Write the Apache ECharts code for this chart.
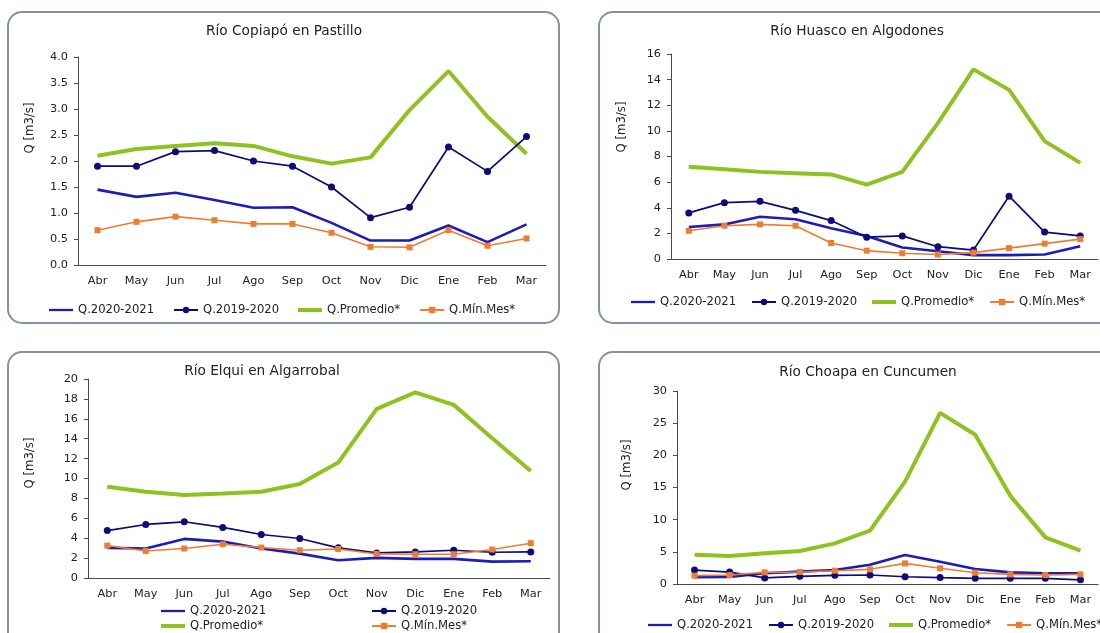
<!DOCTYPE html>
<html>
<head>
<meta charset="utf-8">
<script src="https://cdn.jsdelivr.net/npm/echarts@6/dist/echarts.min.js"></script>
<style>
  html, body { margin: 0; padding: 0; background: #fff; overflow: hidden; }
  #chart { width: 1100px; height: 633px; }
</style>
</head>
<body>
<div id="chart"></div>
<script>
// Months of the hydrological year (April to March)
const months = ['Abr', 'May', 'Jun', 'Jul', 'Ago', 'Sep', 'Oct', 'Nov', 'Dic', 'Ene', 'Feb', 'Mar'];

const seriesNames = ['Q.2020-2021', 'Q.2019-2020', 'Q.Promedio*', 'Q.Mín.Mes*'];

// Río Copiapó en Pastillo [m3/s]
const copiapo2021 = [1.45, 1.31, 1.39, 1.25, 1.10, 1.11, 0.81, 0.47, 0.47, 0.76, 0.44, 0.78];
const copiapo1920 = [1.90, 1.90, 2.18, 2.20, 2.00, 1.90, 1.50, 0.91, 1.11, 2.27, 1.80, 2.47];
const copiapoProm = [2.10, 2.23, 2.29, 2.34, 2.29, 2.09, 1.95, 2.07, 2.98, 3.73, 2.85, 2.14];
const copiapoMin  = [0.67, 0.83, 0.93, 0.86, 0.79, 0.79, 0.62, 0.35, 0.34, 0.67, 0.37, 0.51];

// Río Huasco en Algodones [m3/s]
const huasco2021 = [2.5, 2.7, 3.3, 3.1, 2.4, 1.8, 0.9, 0.6, 0.3, 0.3, 0.35, 1.0];
const huasco1920 = [3.6, 4.4, 4.5, 3.8, 3.0, 1.7, 1.8, 0.96, 0.7, 4.9, 2.1, 1.8];
const huascoProm = [7.2, 7.0, 6.8, 6.7, 6.6, 5.8, 6.8, 10.6, 14.8, 13.2, 9.2, 7.5];
const huascoMin  = [2.2, 2.6, 2.7, 2.6, 1.25, 0.65, 0.45, 0.35, 0.5, 0.85, 1.2, 1.55];

// Río Elqui en Algarrobal [m3/s]
const elqui2021 = [3.03, 2.96, 3.93, 3.66, 2.96, 2.45, 1.78, 2.02, 1.92, 1.92, 1.65, 1.68];
const elqui1920 = [4.77, 5.38, 5.65, 5.08, 4.37, 3.97, 3.03, 2.52, 2.62, 2.79, 2.59, 2.62];
const elquiProm = [9.18, 8.67, 8.34, 8.50, 8.67, 9.45, 11.6, 17.0, 18.65, 17.4, 14.05, 10.75];
const elquiMin  = [3.26, 2.72, 2.96, 3.39, 3.06, 2.79, 2.92, 2.42, 2.39, 2.39, 2.86, 3.50];

// Río Choapa en Cuncumen [m3/s]
const choapa2021 = [1.05, 1.1, 1.66, 1.92, 2.18, 3.0, 4.5, 3.47, 2.33, 1.81, 1.66, 1.66];
const choapa1920 = [2.16, 1.85, 0.95, 1.2, 1.35, 1.4, 1.13, 1.0, 0.88, 0.88, 0.88, 0.65];
const choapaProm = [4.56, 4.35, 4.77, 5.13, 6.32, 8.29, 15.9, 26.6, 23.2, 13.7, 7.25, 5.18];
const choapaMin  = [1.3, 1.4, 1.81, 1.87, 2.07, 2.28, 3.2, 2.44, 1.76, 1.5, 1.4, 1.5];

const titles = ['Río Copiapó en Pastillo', 'Río Huasco en Algodones', 'Río Elqui en Algarrobal', 'Río Choapa en Cuncumen'];
const yName = 'Q [m3/s]';

const panels = [
  { data: [copiapo2021, copiapo1920, copiapoProm, copiapoMin], max: 4, interval: 0.5, dec: 1,
    grid: { left: 78, right: 554, top: 57, bottom: 368 },
    box: { x: 8, y: 12, w: 551, h: 311 },
    title: [284, 31], yname: [30, 128] },
  { data: [huasco2021, huasco1920, huascoProm, huascoMin], max: 16, interval: 2, dec: 0,
    grid: { left: 671, right: 2, top: 54, bottom: 374 },
    box: { x: 599, y: 12, w: 540, h: 311 },
    title: [857, 31], yname: [622, 127] },
  { data: [elqui2021, elqui1920, elquiProm, elquiMin], max: 20, interval: 2, dec: 0,
    grid: { left: 88, right: 550, top: 379, bottom: 55 },
    box: { x: 8, y: 352, w: 551, h: 320 },
    title: [262, 371], yname: [30, 463] },
  { data: [choapa2021, choapa1920, choapaProm, choapaMin], max: 30, interval: 5, dec: 0,
    grid: { left: 677, right: 2, top: 391, bottom: 49 },
    box: { x: 599, y: 352, w: 540, h: 320 },
    title: [868, 372], yname: [627, 465] }
];

const FONT = 'DejaVu Sans';
const TEXT = '#222';
const AXIS = '#4a4a4a';

// Line styles of the four series
const styles = [
  { color: '#1c1cb8', width: 2.6, symbol: 'none', size: 0, z: 3 },
  { color: '#0b0b7a', width: 1.7, symbol: 'circle', size: 7, z: 4 },
  { color: '#8dc21f', width: 4, symbol: 'none', size: 0, z: 2 },
  { color: '#ed7d31', width: 1.6, symbol: 'rect', size: 6, z: 5 }
];

// Legend icons: plain strokes for the series drawn without markers
const legendIcons = [
  'path://M0,0 L27,0 L27,2.6 L0,2.6 Z',
  null,
  'path://M0,0 L24,0 L24,4 L0,4 Z',
  null
];

function legendItems(idx) {
  return idx.map(k => legendIcons[k]
    ? { name: seriesNames[k], icon: legendIcons[k] }
    : { name: seriesNames[k] });
}

const grids = [], xAxes = [], yAxes = [], series = [], graphics = [];

panels.forEach((p, i) => {
  grids.push(Object.assign({ containLabel: false }, p.grid));
  xAxes.push({
    type: 'category', gridIndex: i, data: months, boundaryGap: true,
    axisLine: { lineStyle: { color: AXIS, width: 1 } },
    axisTick: { inside: true, length: 5, interval: 0, lineStyle: { color: AXIS } },
    axisLabel: { interval: 0, margin: 11, color: TEXT, fontFamily: FONT, fontSize: 11.3 },
    splitLine: { show: false }
  });
  yAxes.push({
    type: 'value', gridIndex: i, min: 0, max: p.max, interval: p.interval,
    axisLine: { show: true, lineStyle: { color: AXIS, width: 1 } },
    axisTick: { show: true, length: 4, lineStyle: { color: AXIS } },
    axisLabel: { margin: 10, color: TEXT, fontFamily: FONT, fontSize: 11.3,
      formatter: v => v.toFixed(p.dec) },
    splitLine: { show: false }
  });
  p.data.forEach((arr, k) => {
    const s = styles[k];
    series.push({
      name: seriesNames[k], type: 'line', xAxisIndex: i, yAxisIndex: i,
      data: arr, z: s.z, symbol: s.symbol, symbolSize: s.size, showSymbol: s.symbol !== 'none',
      lineStyle: { color: s.color, width: s.width },
      itemStyle: { color: s.color },
      emphasis: { disabled: true }, animation: false
    });
  });

  // Rounded frame around each panel
  graphics.push({
    type: 'rect', z: 0, silent: true,
    shape: { x: p.box.x, y: p.box.y, width: p.box.w, height: p.box.h, r: 14 },
    style: { fill: 'none', stroke: '#8491a4', lineWidth: 2 }
  });
  // Panel title
  graphics.push({
    type: 'text', z: 10, silent: true, x: p.title[0], y: p.title[1],
    style: { text: titles[i], x: 0, y: 0, align: 'center', verticalAlign: 'middle',
      font: '13.7px "' + FONT + '"', fill: TEXT }
  });
  // Vertical axis name
  graphics.push({
    type: 'text', z: 10, silent: true, x: p.yname[0], y: p.yname[1], rotation: Math.PI / 2,
    style: { text: yName, x: 0, y: 0, align: 'center', verticalAlign: 'middle',
      font: '11.7px "' + FONT + '"', fill: TEXT }
  });
});

const legendBase = {
  orient: 'horizontal', itemWidth: 24, itemHeight: 8, padding: 0,
  textStyle: { color: TEXT, fontFamily: FONT, fontSize: 11.6 },
  selectedMode: false
};

const legends = [
  Object.assign({}, legendBase, { data: legendItems([0, 1, 2, 3]), left: 49, top: 304, width: 700, itemGap: 19 }),
  Object.assign({}, legendBase, { data: legendItems([0, 1, 2, 3]), left: 631, top: 296, width: 700, itemGap: 15 }),
  Object.assign({}, legendBase, { data: legendItems([0, 2]), orient: 'vertical', left: 161, top: 605, height: 60, itemGap: 3 }),
  Object.assign({}, legendBase, { data: legendItems([1, 3]), orient: 'vertical', left: 371, top: 605, height: 60, itemGap: 3 }),
  Object.assign({}, legendBase, { data: legendItems([0, 1, 2, 3]), left: 648, top: 619, width: 700, itemGap: 15 })
];

const chart = echarts.init(document.getElementById('chart'), null, { renderer: 'canvas' });
chart.setOption({
  backgroundColor: '#ffffff',
  animation: false,
  grid: grids,
  xAxis: xAxes,
  yAxis: yAxes,
  legend: legends,
  series: series,
  graphic: graphics
});
</script>
</body>
</html>
